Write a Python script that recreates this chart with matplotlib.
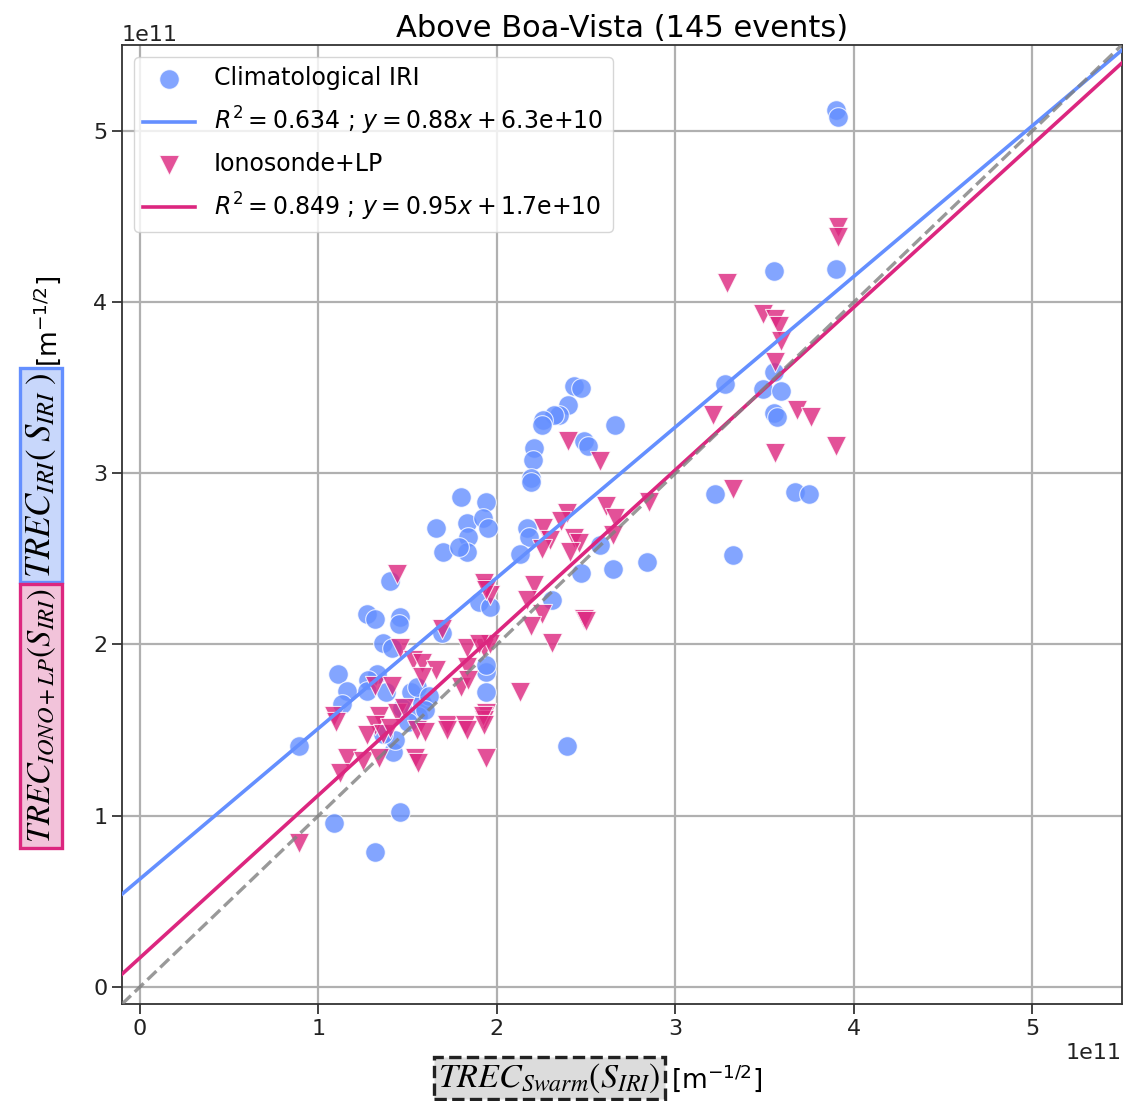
import numpy as np
import matplotlib
matplotlib.use('Agg')
import matplotlib.pyplot as plt

# values in units of 1e11 m^-1/2
iri_x = [3.90, 3.91, 3.90, 3.55, 3.28, 3.49, 3.59, 3.55, 3.55, 3.57, 3.22, 3.67, 3.75, 3.32,
         2.66, 2.84, 2.65, 2.47, 2.58, 2.43, 2.47, 2.40, 2.35, 2.32, 2.26, 2.25, 2.49, 2.51,
         2.21, 2.20, 2.19, 2.19, 2.17, 2.18, 2.13, 2.31, 2.39,
         1.80, 1.94, 1.66, 1.83, 1.92, 1.95, 1.84, 1.70, 1.83, 1.79,
         1.40, 1.27, 1.32, 1.46, 1.45, 1.90, 1.96, 1.36, 1.41, 1.11, 1.33, 1.28, 1.16, 1.13,
         1.27, 1.52, 1.58, 1.94, 1.94, 0.89, 1.42, 1.46, 1.09, 1.32, 1.69, 1.94, 1.38, 1.55,
         1.56, 1.47, 1.62, 1.43, 1.60, 1.36, 1.50]
iri_y = [5.12, 5.08, 4.19, 4.18, 3.52, 3.49, 3.48, 3.59, 3.35, 3.33, 2.88, 2.89, 2.88, 2.52,
         3.28, 2.48, 2.44, 2.42, 2.58, 3.51, 3.50, 3.40, 3.34, 3.34, 3.31, 3.28, 3.19, 3.16,
         3.15, 3.08, 2.97, 2.95, 2.68, 2.63, 2.53, 2.26, 1.41,
         2.86, 2.83, 2.68, 2.71, 2.74, 2.68, 2.63, 2.54, 2.54, 2.57,
         2.37, 2.18, 2.15, 2.16, 2.12, 2.25, 2.22, 2.01, 1.98, 1.83, 1.83, 1.79, 1.73, 1.65,
         1.73, 1.72, 1.66, 1.84, 1.72, 1.41, 1.37, 1.02, 0.96, 0.79, 2.07, 1.88, 1.72, 1.75,
         1.58, 1.63, 1.70, 1.44, 1.62, 1.48, 1.55]

iono_x = [3.91, 3.91, 3.29, 3.49, 3.56, 3.58, 3.59, 3.56, 3.21, 3.68, 3.76, 3.90, 3.56, 3.32,
          2.40, 2.58, 2.61, 2.85, 2.66, 2.65, 2.39, 2.36, 2.26, 2.30, 2.25, 2.43, 2.46, 2.41,
          1.94, 1.96, 2.21, 2.17, 2.25, 2.19, 2.49, 2.50, 2.31, 2.13, 1.94, 1.93, 1.93, 1.96,
          1.44, 1.69, 1.46, 1.53, 1.58, 1.66, 1.58, 1.32, 1.41, 1.83, 1.90, 1.83, 1.80, 1.84,
          1.93, 1.94, 1.09, 1.34, 1.44, 1.48, 1.72, 1.82, 1.92,
          1.10, 1.32, 1.27, 1.36, 1.40, 1.55, 1.60, 1.72, 1.83, 1.93, 1.16, 1.12, 1.25, 1.34,
          1.54, 1.56, 1.94, 0.89]
iono_y = [4.44, 4.38, 4.11, 3.93, 3.90, 3.86, 3.77, 3.65, 3.34, 3.37, 3.33, 3.16, 3.12, 2.91,
          3.19, 3.07, 2.81, 2.83, 2.74, 2.64, 2.77, 2.72, 2.68, 2.61, 2.56, 2.62, 2.59, 2.54,
          2.33, 2.29, 2.35, 2.26, 2.18, 2.11, 2.15, 2.14, 2.01, 1.72, 1.60, 1.56, 1.98, 2.00,
          2.41, 2.09, 1.98, 1.91, 1.89, 1.85, 1.81, 1.76, 1.76, 1.98, 2.00, 1.87, 1.75, 1.79,
          2.36, 2.32, 1.58, 1.58, 1.60, 1.63, 1.53, 1.53, 1.58,
          1.55, 1.53, 1.47, 1.48, 1.51, 1.50, 1.49, 1.50, 1.50, 1.53, 1.34, 1.25, 1.32, 1.34,
          1.34, 1.31, 1.34, 0.84]

# linear fits shown in the legend: slope, intercept, R^2
iri_fit = (0.88, 6.3e10, 0.634)
iono_fit = (0.95, 1.7e10, 0.849)

blue = '#648FFF'
pink = '#DC267F'

fig = plt.figure(figsize=(11.4, 11.01), dpi=100)
ax = fig.add_axes([0.107, 0.088, 0.877, 0.871])

sc1 = ax.scatter(np.array(iri_x) * 1e11, np.array(iri_y) * 1e11, s=200, marker='o',
                 color=blue, alpha=0.8, edgecolor='white', linewidth=0.8, zorder=3)
sc2 = ax.scatter(np.array(iono_x) * 1e11, np.array(iono_y) * 1e11, s=210, marker='v',
                 color=pink, alpha=0.8, edgecolor='white', linewidth=0.8, zorder=3)

xx = np.array([-0.1e11, 5.5e11])
ln1, = ax.plot(xx, iri_fit[0] * xx + iri_fit[1], color=blue, lw=2.6, zorder=4)
ln2, = ax.plot(xx, iono_fit[0] * xx + iono_fit[1], color=pink, lw=2.6, zorder=4)
ax.plot(xx, xx, color='gray', ls='--', lw=2.4, alpha=0.8, zorder=4)

ax.set_xlim(-0.1e11, 5.5e11)
ax.set_ylim(-0.1e11, 5.5e11)
ax.grid(True, color='#b0b0b0', lw=1.6)
ax.set_axisbelow(True)
ax.tick_params(labelsize=16, length=7, width=1.2, colors='#222222')
ax.xaxis.get_offset_text().set_fontsize(16)
ax.yaxis.get_offset_text().set_fontsize(16)
for sp in ax.spines.values():
    sp.set_linewidth(1.3)
    sp.set_color('#333333')
ax.set_title('Above Boa-Vista (145 events)', fontsize=22)

lab1 = r'$R^2 = %.3f$ ; $y = %.2fx + %.1f\mathrm{e{+}10}$' % (iri_fit[2], iri_fit[0], iri_fit[1] / 1e10)
lab2 = r'$R^2 = %.3f$ ; $y = %.2fx + %.1f\mathrm{e{+}10}$' % (iono_fit[2], iono_fit[0], iono_fit[1] / 1e10)
ax.legend([sc1, ln1, sc2, ln2], ['Climatological IRI', lab1, 'Ionosonde+LP', lab2],
          loc='upper left', fontsize=17, handlelength=2.2, labelspacing=0.62)

# composite axis labels with coloured boxes
fig.text(0.036, 0.5685, r'$TREC_{IRI}\left(\;S_{IRI}\;\right)$', rotation=90, ha='center', va='center',
         fontsize=25, math_fontfamily='stix',
         bbox=dict(boxstyle='square,pad=0.12', fc='#c8d7fb', ec=blue, lw=2.4))
fig.text(0.036, 0.350, r'$TREC_{IONO+LP}\left(S_{IRI}\right)$', rotation=90, ha='center', va='center',
         fontsize=23.5, math_fontfamily='stix',
         bbox=dict(boxstyle='square,pad=0.14', fc='#f2c3da', ec=pink, lw=2.4))
fig.text(0.041, 0.667, r'[m$^{-1/2}$]', rotation=90, ha='center', va='bottom', fontsize=19)

fig.text(0.482, 0.021, r'$TREC_{Swarm}\left(S_{IRI}\right)$', ha='center', va='center',
         fontsize=24.5, math_fontfamily='stix',
         bbox=dict(boxstyle='square,pad=0.12', fc='#dcdcdc', ec='#222222', lw=2.4, ls='--'))
fig.text(0.589, 0.021, r'[m$^{-1/2}$]', ha='left', va='center', fontsize=19)

fig.savefig('out.png', dpi=100)
